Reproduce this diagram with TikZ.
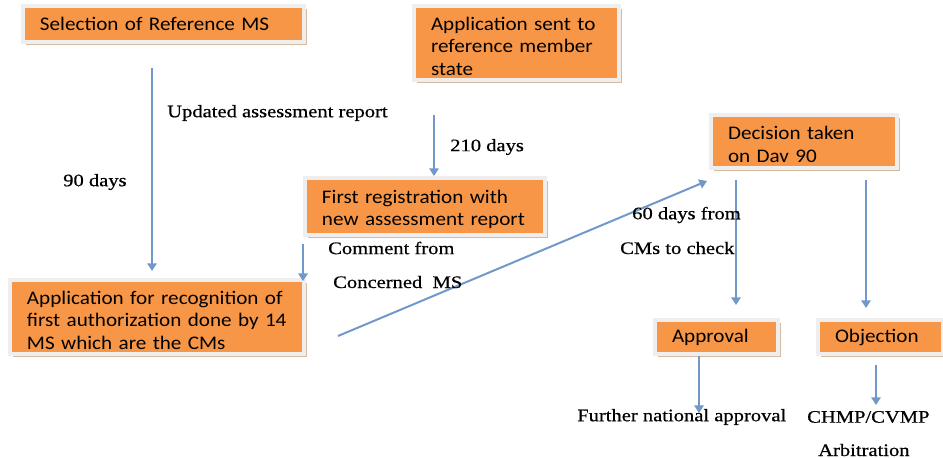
\documentclass[tikz,border=0pt]{standalone}
\usepackage{fontspec}
\setmainfont{Liberation Serif}[FakeStretch=1.17, FakeBold=0.6]
\newfontfamily\boxfont{Carlito}[FakeStretch=1.1]
\usepackage{xcolor}
\usepackage{tikz}
\usetikzlibrary{shapes,arrows,arrows.meta,positioning,calc,shadows}
\definecolor{boxorange}{RGB}{247,150,70}
\definecolor{framegray}{RGB}{238,238,238}
\definecolor{shadetan}{RGB}{214,186,160}
\definecolor{arrowblue}{RGB}{112,152,200}

\begin{document}
\begin{tikzpicture}[
	x=0.03cm, y=-0.03cm,
	block/.style={rectangle, draw=framegray, line width=3.4pt, fill=boxorange,
		drop shadow={shadow xshift=2.6pt, shadow yshift=-2.6pt, fill=shadetan, opacity=1},
		inner xsep=14.5pt, inner ysep=0pt, align=left,
		font=\boxfont\fontsize{16.4pt}{19.2pt}\selectfont},
	multiline/.style={text height=16.5pt},
	arrow/.style={-{Triangle[length=6.5pt, width=8pt]}, arrowblue, line width=1.7pt},
	lbl/.style={anchor=west, inner sep=0pt, font=\fontsize{15pt}{18pt}\selectfont}
	]
	\useasboundingbox (0,0) rectangle (943,458);
	
	% Boxes
	\node[block, text width=7.41cm, minimum height=1.08cm] (sel) at (163.5,24) {Selection of Reference MS};
	\node[block, multiline, text width=5.13cm, minimum height=2.22cm] (app) at (516.5,43) {Application sent to\\reference member\\state};
	\node[block, multiline, text width=6.18cm, minimum height=1.71cm] (reg) at (425,206.5) {First registration with\\new assessment report};
	\node[block, multiline, text width=7.8cm, minimum height=2.22cm] (recog) at (157,317) {Application for recognition of\\first authorization done by 14\\MS which are the CMs};
	\node[block, multiline, text width=4.56cm, minimum height=1.59cm] (dec) at (804,141.5) {Decision taken\\on Dav 90};
	\node[block, text width=2.67cm, minimum height=1.02cm] (appr) at (716.5,337) {Approval};
	\node[block, text width=2.73cm, minimum height=1.02cm] (obj) at (880.5,337) {Objection};
	
	% Loose arrow ends
	\coordinate (c1) at (152,68);
	\coordinate (c2) at (434,115);
	\coordinate (c4) at (338,336);
	\coordinate (c5) at (736,305);
	\coordinate (c6) at (866,308);
	\coordinate (c7) at (699,413);
	\coordinate (c8) at (876,405);
	
	% Connections
	\draw[arrow, shorten >=6pt] (c1) -- (c1 |- recog.north);
	\draw[arrow] (c2) -- (c2 |- reg.north);
	\draw[arrow, shorten <=6pt, shorten >=-2.6pt] (reg.south west) -- (reg.south west |- recog.north);
	\draw[arrow] (c4) -- ($(dec.south west)+(-2,11)$);
	\draw[arrow, shorten <=8.5pt] (c5 |- dec.south) -- (c5);
	\draw[arrow, shorten <=8.5pt] (c6 |- dec.south) -- (c6);
	\draw[arrow] (c7 |- appr.south) -- (c7);
	\draw[arrow, shorten <=7.7pt] (c8 |- obj.south) -- (c8);
	
	% Labels
	\node[lbl] (upd) at (167,113) {Updated assessment report};
	\node[lbl] (ninety) at (63,182) {90 days};
	\node[lbl] (twoten) at (450,147) {210 days};
	\node[lbl] (comm) at (328,248) {Comment from};
	\node[lbl] (conc) at (333,282) {Concerned\ \ MS};
	\node[lbl] (sixty) at (632,215) {60 days from};
	\node[lbl] (cms) at (620,248) {CMs to check};
	\node[lbl] (further) at (577,417) {Further national approval};
	\node[lbl] (chmp) at (807,417) {CHMP/CVMP};
	\node[lbl] (arb) at (818,450) {Arbitration};
	
\end{tikzpicture}
\end{document}
